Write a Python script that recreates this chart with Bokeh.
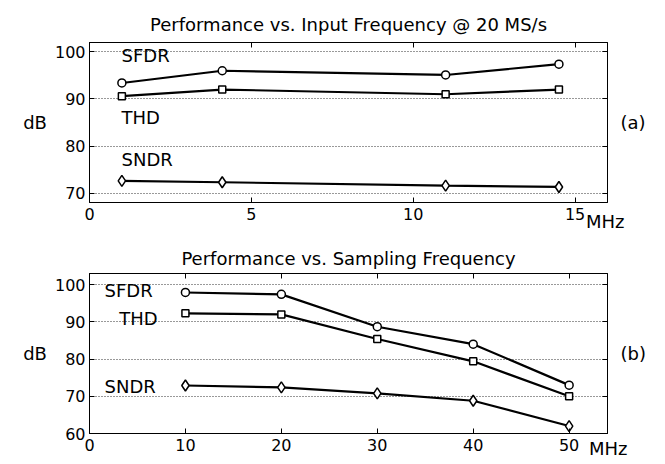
from bokeh.plotting import figure
from bokeh.models import Label, LinearAxis, FixedTicker, Range1d, Title
from bokeh.layouts import column
from bokeh.embed import file_html
from bokeh.resources import INLINE

FONT = "DejaVu Sans"

# ---- data: panel (a) performance vs input frequency @ 20 MS/s ----
fin_mhz = [1.0, 4.1, 11.0, 14.5]
sfdr_a = [93.4, 96.0, 95.1, 97.4]
thd_a = [90.6, 92.0, 91.0, 92.0]
sndr_a = [72.6, 72.3, 71.6, 71.3]

# ---- data: panel (b) performance vs sampling frequency ----
fs_mhz = [10, 20, 30, 40, 50]
sfdr_b = [97.9, 97.4, 88.7, 84.0, 73.0]
thd_b = [92.3, 92.0, 85.4, 79.4, 70.0]
sndr_b = [72.9, 72.4, 70.8, 68.8, 62.0]

series_names = ["SFDR", "THD", "SNDR"]
markers = ["circle", "square", "diamond"]

xticks_a = [0, 5, 10, 15]
yticks_a = [70, 80, 90, 100]
xticks_b = [0, 10, 20, 30, 40, 50]
yticks_b = [60, 70, 80, 90, 100]

title_a = "Performance vs. Input Frequency @ 20 MS/s"
title_b = "Performance vs. Sampling Frequency"
tag_a = "(a)"
tag_b = "(b)"
y_unit = "dB"
x_unit = "MHz"


def panel(x, ys, xr, yr, xt, yt, height, borders, name_pos, title, title_standoff,
          tag, mhz_offset, mhz_standoff):
    top, bottom, left, right = borders
    p = figure(width=665, height=height, output_backend="svg", toolbar_location=None,
               x_range=Range1d(*xr), y_range=Range1d(*yr),
               min_border_top=top, min_border_bottom=bottom,
               min_border_left=left, min_border_right=right,
               x_axis_location=None, y_axis_location=None)
    p.outline_line_color = "black"
    p.outline_line_width = 1
    p.background_fill_color = "white"
    p.border_fill_color = "white"
    p.xgrid.visible = False

    p.title.text = title
    p.title.align = "center"
    p.title.text_font = FONT
    p.title.text_font_size = "18px"
    p.title.text_font_style = "normal"
    p.title.text_color = "black"
    p.title.standoff = title_standoff

    for loc, dim in (("below", "x"), ("left", "y"), ("above", "x"), ("right", "y")):
        ticks = xt if dim == "x" else yt
        ax = LinearAxis(ticker=FixedTicker(ticks=ticks))
        ax.major_tick_in = 5
        ax.major_tick_out = 0
        ax.major_tick_line_width = 1
        ax.minor_tick_line_color = None
        ax.axis_line_color = "black"
        ax.major_tick_line_color = "black"
        ax.major_label_text_font = FONT
        ax.major_label_text_font_size = "16px"
        ax.major_label_text_color = "black"
        ax.axis_label_text_font = FONT
        ax.axis_label_text_font_size = "18px"
        ax.axis_label_text_font_style = "normal"
        ax.axis_label_text_color = "black"
        if loc == "above":
            ax.major_label_overrides = {t: "" for t in ticks}
            ax.major_label_standoff = 0
        elif loc == "right":
            ax.major_label_overrides = {t: "" for t in ticks}
            ax.major_label_standoff = 0
            ax.axis_label = tag
            ax.axis_label_orientation = "horizontal"
            ax.axis_label_standoff = 13
        elif loc == "left":
            ax.major_label_standoff = 4
            ax.axis_label = y_unit
            ax.axis_label_orientation = "horizontal"
            ax.axis_label_standoff = 5
        else:
            ax.major_label_standoff = 5
        p.add_layout(ax, loc)

    mhz = Title(text=x_unit, align="right", vertical_align="top", offset=mhz_offset,
                standoff=mhz_standoff, text_font=FONT, text_font_size="18px",
                text_font_style="normal", text_color="black")
    p.add_layout(mhz, "below")

    p.ygrid.ticker = FixedTicker(ticks=yt)
    p.ygrid.grid_line_color = "#333333"
    p.ygrid.grid_line_dash = "1 2"
    p.ygrid.grid_line_width = 1

    for y, mk, nm, (lx, ly) in zip(ys, markers, series_names, name_pos):
        p.line(x, y, line_color="black", line_width=2.2)
        sz = {"circle": 8, "square": 7, "diamond": 11}[mk]
        p.scatter(x, y, marker=mk, size=sz, line_color="black", line_width=1.5,
                  fill_color="white")
        p.add_layout(Label(x=lx, y=ly, text=nm, text_font=FONT, text_font_size="18px",
                           text_baseline="middle", text_align="left", text_color="black"))
    return p


pa = panel(fin_mhz, [sfdr_a, thd_a, sndr_a], (0, 16), (68, 102), xticks_a, yticks_a,
           236, (42, 34, 89, 57),
           [(0.99, 99.3), (0.99, 86.0), (0.99, 77.1)],
           title_a, 16, tag_a, -17, -24)

pb = panel(fs_mhz, [sfdr_b, thd_b, sndr_b], (0, 54), (60, 103), xticks_b, yticks_b,
           228, (37, 31, 88, 58),
           [(1.57, 98.5), (3.1, 90.8), (1.57, 72.7)],
           title_b, 10, tag_b, -20, -31)

layout = column(pa, pb, spacing=0)
open("out.html", "w").write(file_html(layout, INLINE))
